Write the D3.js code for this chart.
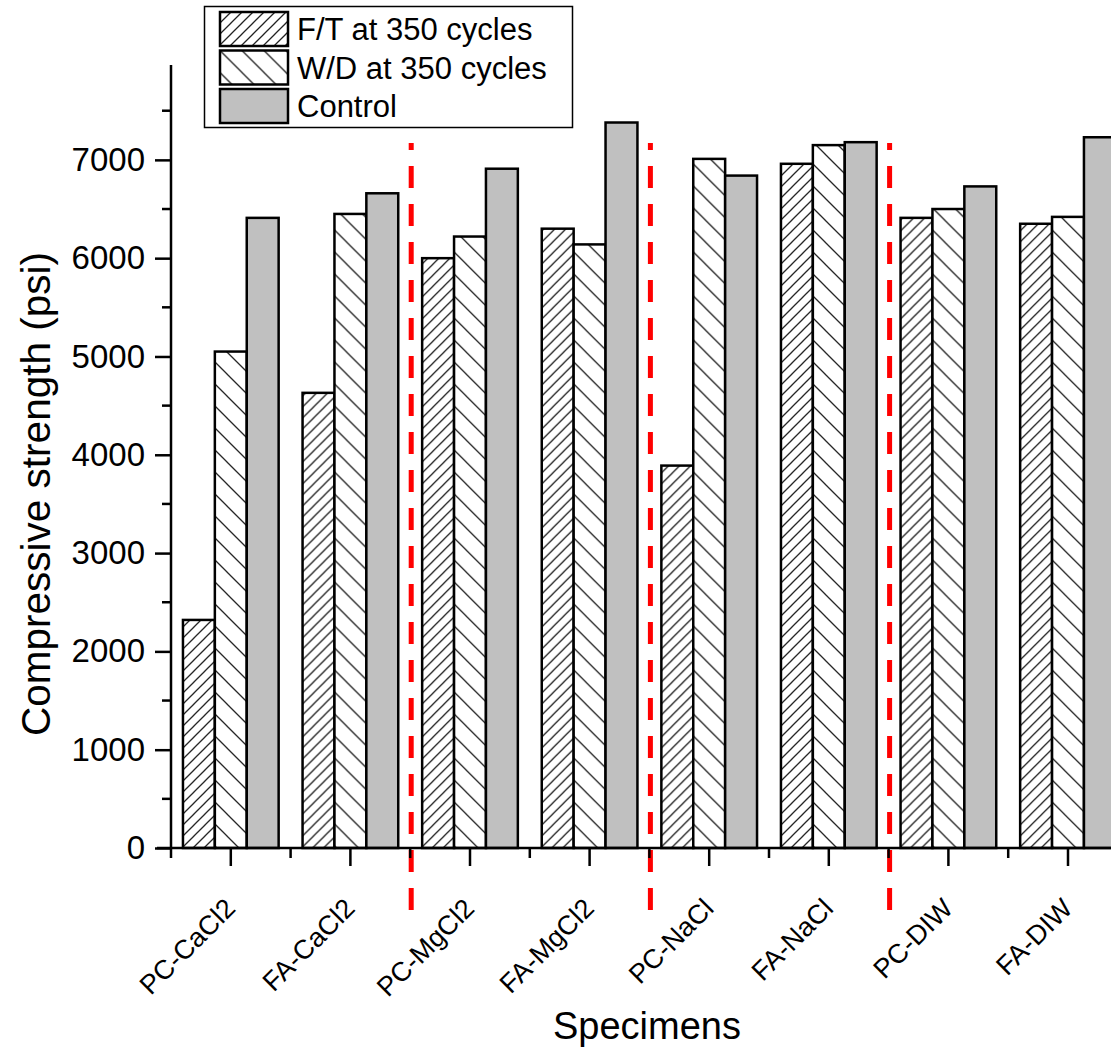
<!DOCTYPE html>
<html>
<head>
<meta charset="utf-8">
<script src="https://cdn.jsdelivr.net/npm/d3@7"></script>
<style>
  body { margin: 0; background: #fff; }
  svg text { font-family: "Liberation Sans", Arial, sans-serif; fill: #000; }
</style>
</head>
<body>
<svg id="chart" width="1111" height="1050"></svg>
<script>
// values (psi)
const specimens = ['PC-CaCl2', 'FA-CaCl2', 'PC-MgCl2', 'FA-MgCl2', 'PC-NaCl', 'FA-NaCl', 'PC-DIW', 'FA-DIW']
const seriesNames = ['F/T at 350 cycles', 'W/D at 350 cycles', 'Control']
const freezeThaw = [2320, 4630, 6000, 6300, 3890, 6960, 6410, 6350]
const wetDry = [5050, 6450, 6220, 6140, 7010, 7150, 6500, 6420]
const control = [6410, 6660, 6910, 7380, 6840, 7180, 6730, 7230]
const yTicks = [0, 1000, 2000, 3000, 4000, 5000, 6000, 7000]
const yMinorTicks = [500, 1500, 2500, 3500, 4500, 5500, 6500, 7500]
// groups after which a red divider is drawn
const dividerAfter = ['FA-CaCl2', 'FA-MgCl2', 'FA-NaCl']

const svg = d3.select('#chart')
const fills = ['url(#hatchFT)', 'url(#hatchWD)', '#c0c0c0']

const x0 = 171, step = 119.6
const x = d3.scaleBand()
  .domain(specimens)
  .range([x0, x0 + step * specimens.length])
  .paddingInner(0.2)
  .paddingOuter(0.1)

const xs = d3.scaleBand()
  .domain(seriesNames)
  .range([0, x.bandwidth()])

const y = d3.scaleLinear()
  .domain([0, 7965])
  .range([848, 65])

buildPatterns()
drawBars()
drawDividers()
drawAxes()
drawLegend()

function buildPatterns() {
  const defs = svg.append('defs')

  const ft = defs.append('pattern')
    .attr('id', 'hatchFT')
    .attr('patternUnits', 'userSpaceOnUse')
    .attr('width', 11).attr('height', 11)
  ft.append('rect').attr('width', 11).attr('height', 11).attr('fill', '#fff')
  ft.append('path')
    .attr('d', 'M-3,3 L3,-3 M0,11 L11,0 M8,14 L14,8')
    .attr('stroke', '#222').attr('stroke-width', 1.3)

  const wd = defs.append('pattern')
    .attr('id', 'hatchWD')
    .attr('patternUnits', 'userSpaceOnUse')
    .attr('width', 22).attr('height', 22)
  wd.append('rect').attr('width', 22).attr('height', 22).attr('fill', '#fff')
  wd.append('path')
    .attr('d', 'M-4,18 L4,26 M0,0 L22,22 M18,-4 L26,4')
    .attr('stroke', '#222').attr('stroke-width', 1.3)
}

function drawBars() {
  const rows = specimens.map((s, i) => ({
    name: s,
    values: [freezeThaw[i], wetDry[i], control[i]]
  }))

  const g = svg.append('g').attr('class', 'bars')
    .selectAll('g')
    .data(rows)
    .join('g')
    .attr('transform', d => `translate(${x(d.name)},0)`)

  g.selectAll('rect')
    .data(d => d.values.map((v, k) => ({ series: seriesNames[k], value: v, k: k })))
    .join('rect')
    .attr('x', d => xs(d.series))
    .attr('width', xs.bandwidth())
    .attr('y', d => y(d.value))
    .attr('height', d => y(0) - y(d.value))
    .attr('fill', d => fills[d.k])
    .attr('stroke', '#000')
    .attr('stroke-width', 2.5)
}

function drawDividers() {
  svg.append('g').attr('class', 'dividers')
    .selectAll('line')
    .data(dividerAfter)
    .join('line')
    .attr('x1', d => x(d) + x.step() * 0.9 + 1)
    .attr('x2', d => x(d) + x.step() * 0.9 + 1)
    .attr('y1', 910)
    .attr('y2', 143)
    .attr('stroke', '#ff0000')
    .attr('stroke-width', 5)
    .attr('stroke-dasharray', '22,16')
}

function drawAxes() {
  // y axis
  const yAxis = svg.append('g')
    .attr('transform', `translate(${x0},0)`)
    .call(d3.axisLeft(y).tickValues(yTicks).tickSize(16).tickPadding(10).tickFormat(d3.format('d')))
  yAxis.select('.domain').attr('d', `M0,${y(0)}V${y.range()[1]}`).attr('stroke-width', 2.5)
  yAxis.selectAll('.tick line').attr('stroke-width', 2.5)
  yAxis.selectAll('.tick text').attr('font-size', 33)

  svg.append('g')
    .attr('transform', `translate(${x0},0)`)
    .selectAll('line')
    .data(yMinorTicks)
    .join('line')
    .attr('x1', -9).attr('x2', 0)
    .attr('y1', d => y(d)).attr('y2', d => y(d))
    .attr('stroke', '#000').attr('stroke-width', 2.5)

  // x axis
  const xAxis = svg.append('g')
    .attr('transform', `translate(0,${y(0)})`)
    .call(d3.axisBottom(x).tickSize(18).tickFormat(''))
  xAxis.select('.domain').attr('d', `M${x0 - 14},0H1111`).attr('stroke-width', 2.5)
  xAxis.selectAll('.tick line').attr('stroke-width', 2.5)

  // minor ticks between groups
  svg.append('g')
    .attr('transform', `translate(0,${y(0)})`)
    .selectAll('line')
    .data(d3.range(specimens.length + 1))
    .join('line')
    .attr('x1', i => x0 + i * x.step()).attr('x2', i => x0 + i * x.step())
    .attr('y1', 0).attr('y2', 10)
    .attr('stroke', '#000').attr('stroke-width', 2.5)

  svg.append('g').attr('class', 'x-labels')
    .selectAll('text')
    .data(specimens)
    .join('text')
    .attr('text-anchor', 'end')
    .attr('font-size', 27)
    .attr('transform', d => `translate(${x(d) + x.bandwidth() / 2 + 6},910) rotate(-45)`)
    .text(d => d)

  svg.append('text')
    .attr('text-anchor', 'middle')
    .attr('font-size', 40.5)
    .attr('transform', 'translate(50,494) rotate(-90)')
    .text('Compressive strength (psi)')

  svg.append('text')
    .attr('text-anchor', 'middle')
    .attr('font-size', 38)
    .attr('x', 647)
    .attr('y', 1039)
    .text('Specimens')
}

function drawLegend() {
  const lg = svg.append('g').attr('class', 'legend')
  lg.append('rect')
    .attr('x', 204.5).attr('y', 6.5)
    .attr('width', 368).attr('height', 121)
    .attr('fill', '#fff').attr('stroke', '#000').attr('stroke-width', 1.5)

  const item = lg.selectAll('g')
    .data(seriesNames)
    .join('g')
    .attr('transform', (d, i) => `translate(220,${12 + i * 38.5})`)

  item.append('rect')
    .attr('width', 68).attr('height', 34)
    .attr('fill', (d, i) => fills[i])
    .attr('stroke', '#000').attr('stroke-width', 2.5)

  item.append('text')
    .attr('x', 77).attr('y', 28)
    .attr('font-size', 31)
    .text(d => d)
}
</script>
</body>
</html>
